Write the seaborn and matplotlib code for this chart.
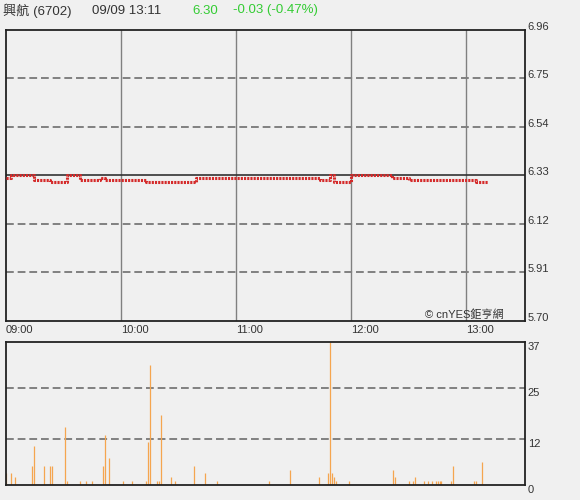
import matplotlib
matplotlib.use("Agg")
import matplotlib.pyplot as plt
import seaborn as sns
import pandas as pd

# Dados: minutos a partir das 09:00
precos_min = [0, 3, 15, 23, 32, 39, 49, 52, 73, 99, 164, 169, 171, 180, 201, 210, 245, 251]
precos = [6.32, 6.33, 6.31, 6.30, 6.33, 6.31, 6.32, 6.31, 6.30, 6.32, 6.31, 6.33, 6.30, 6.33,
          6.32, 6.31, 6.30, 6.30]

vol_min = [0, 3, 5, 14, 15, 20, 23, 24, 31, 32, 39, 42, 45, 51, 52, 54, 61, 66, 73, 74, 75,
           79, 80, 81, 86, 88, 98, 104, 110, 137, 148, 163, 168, 169, 170, 171, 172, 179,
           202, 203, 210, 212, 213, 218, 220, 222, 224, 225, 226, 227, 232, 233, 244, 245, 248]
volumes = [3, 3, 2, 5, 10, 5, 5, 5, 15, 1, 1, 1, 1, 5, 13, 7, 1, 1, 1, 11, 31,
           1, 1, 18, 2, 1, 5, 3, 1, 1, 4, 2, 3, 37, 3, 2, 1, 1,
           4, 2, 1, 1, 2, 1, 1, 1, 1, 1, 1, 1, 1, 5, 1, 1, 6]

preco_ticks = [5.70, 5.91, 6.12, 6.33, 6.54, 6.75, 6.96]
vol_ticks = [0, 12, 25, 37]
hora_ticks = [0, 60, 120, 180, 240]
hora_labels = ["09:00", "10:00", "11:00", "12:00", "13:00"]
fechamento_anterior = 6.33

df_preco = pd.DataFrame({"minuto": precos_min, "preco": precos})
df_vol = pd.DataFrame({"minuto": vol_min, "volume": volumes})

sns.set_style("white", {"axes.facecolor": "#f0f0f0", "figure.facecolor": "#f0f0f0"})
plt.rcParams["font.family"] = ["Liberation Sans", "Noto Sans CJK TC", "DejaVu Sans"]

fig = plt.figure(figsize=(5.8, 5.0), dpi=100)
ax1 = fig.add_axes([0.0095, 0.358, 0.8957, 0.582])
ax2 = fig.add_axes([0.0095, 0.03, 0.8957, 0.286])

# Painel de preço
for h in hora_ticks[1:]:
    ax1.axvline(h, color="#808080", linewidth=1, zorder=1)
for p in preco_ticks[1:-1]:
    if p == fechamento_anterior:
        ax1.axhline(p, color="#333333", linewidth=1.2, zorder=2)
    else:
        ax1.axhline(p, color="#808080", linewidth=1.4, linestyle=(0, (4, 2)), zorder=1)

sns.lineplot(data=df_preco, x="minuto", y="preco", ax=ax1, color="#d42a2a",
             linewidth=2.2, drawstyle="steps-post", linestyle=(0, (0.7, 0.35)), zorder=3)

ax1.set_xlim(0, 270.5)
ax1.set_ylim(5.70, 6.96)
ax1.set_xticks(hora_ticks)
ax1.set_xticklabels(hora_labels)
ax1.set_yticks(preco_ticks)
ax1.set_yticklabels([f"{p:.2f}" for p in preco_ticks])
ax1.yaxis.tick_right()
ax1.tick_params(axis="both", length=0, labelsize=8, colors="#333333")
ax1.tick_params(axis="y", pad=2)
ax1.tick_params(axis="x", pad=3)
for lbl in ax1.get_xticklabels():
    lbl.set_ha("left")
for lbl in ax1.get_yticklabels():
    lbl.set_va("baseline")
ax1.set_xlabel("")
ax1.set_ylabel("")
ax1.text(0.96, 0.005, "© cnYES鉅亨網", transform=ax1.transAxes, ha="right", va="bottom",
         fontsize=8, color="#333333")

# Painel de volume
for v in vol_ticks[1:-1]:
    ax2.axhline(v, color="#808080", linewidth=1.4, linestyle=(0, (4, 2)), zorder=1)
ax2.vlines(df_vol["minuto"], 0, df_vol["volume"], color="#f5a54f", linewidth=0.9, zorder=2)
ax2.set_xlim(0, 270.5)
ax2.set_ylim(0, 37)
ax2.set_xticks([])
ax2.set_yticks(vol_ticks)
ax2.set_yticklabels([str(v) for v in vol_ticks])
ax2.yaxis.tick_right()
ax2.tick_params(axis="y", length=0, labelsize=8, colors="#333333", pad=2)
for lbl in ax2.get_yticklabels():
    lbl.set_va("top")

for ax in (ax1, ax2):
    for s in ax.spines.values():
        s.set_visible(True)
        s.set_color("#222222")
        s.set_linewidth(1.3)

# Cabeçalho
fig.text(0.005, 0.979, "興航 (6702)", fontsize=9.5, color="#333333", va="center")
fig.text(0.159, 0.979, "09/09 13:11", fontsize=9.5, color="#333333", va="center")
fig.text(0.331, 0.979, "6.30", fontsize=9.5, color="#33cc33", va="center")
fig.text(0.402, 0.979, "-0.03 (-0.47%)", fontsize=9.5, color="#33cc33", va="center")

fig.savefig("out.png", dpi=100, facecolor=fig.get_facecolor())
